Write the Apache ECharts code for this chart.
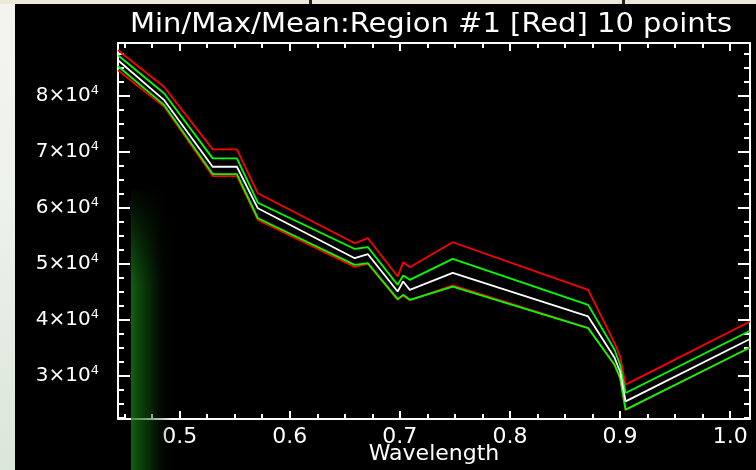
<!DOCTYPE html>
<html>
<head>
<meta charset="utf-8">
<script src="https://cdn.jsdelivr.net/npm/echarts@6/dist/echarts.min.js"></script>
<style>
html,body{margin:0;padding:0;background:#000;}
#c{width:756px;height:470px;}
</style>
</head>
<body>
<div id="c"></div>
<script>
// ---- data ----
const wavelength = [0.444, 0.486, 0.530, 0.552, 0.571, 0.659, 0.671, 0.698, 0.703, 0.709, 0.748, 0.871, 0.895, 0.900, 0.905, 1.018];
const maxVals   = [88160, 81600, 70430, 70430, 62570, 53640, 54540, 47680, 50250, 49360, 53820, 45300, 35790, 33390, 28340, 39640];
const upperVals = [87270, 80430, 68820, 68820, 60890, 52620, 52930, 46200, 47860, 47090, 50840, 42620, 34590, 31910, 26860, 37980];
const meanVals  = [86380, 79230, 67320, 67320, 59890, 50960, 51680, 45000, 46790, 45300, 48340, 40540, 33160, 30660, 25360, 36500];
const lowerVals = [85300, 78340, 66020, 66020, 58110, 49770, 50070, 43640, 44410, 43520, 45890, 38460, 31910, 29590, 23880, 35000];
const minVals   = [84590, 78040, 65660, 65660, 57800, 49410, 49950, 43520, 44230, 43430, 46110, 38510, 31800, 29500, 23800, 35000];

const xMajor = [0.5, 0.6, 0.7, 0.8, 0.9, 1.0];
const xMinor = [0.45, 0.475, 0.525, 0.55, 0.575, 0.625, 0.65, 0.675, 0.725, 0.75, 0.775, 0.825, 0.85, 0.875, 0.925, 0.95, 0.975];
const yMajor = [30000, 40000, 50000, 60000, 70000, 80000];
const yMinor = [22500, 25000, 27500, 32500, 35000, 37500, 42500, 45000, 47500, 52500, 55000, 57500, 62500, 65000, 67500, 72500, 75000, 77500, 82500, 85000, 87500];

const titleText = 'Min/Max/Mean:Region #1 [Red] 10 points';
const xName = 'Wavelength';

const X_MIN = 0.444, X_MAX = 1.018, Y_MIN = 22200, Y_MAX = 89460;
const FONT = 'DejaVu Sans';

function pairs(xs, ys) { return xs.map((x, i) => [x, ys[i]]); }

const chart = echarts.init(document.getElementById('c'), null, {renderer: 'canvas'});

const lineW = 1.8;
const axisBase = {type: 'value', splitLine: {show: false}, axisLine: {show: false}, axisLabel: {show: false}, axisTick: {show: false}};

function xAx(pos, values, len, withLine, withLabel) {
  return Object.assign({}, axisBase, {
    position: pos, min: X_MIN, max: X_MAX,
    axisLine: {show: withLine, onZero: false, lineStyle: {color: '#fff', width: 2}},
    axisTick: {show: true, inside: true, length: len, customValues: values, lineStyle: {color: '#fff', width: 2}},
    axisLabel: withLabel ? {show: true, customValues: xMajor, margin: 7, color: '#fff', fontSize: 22, fontFamily: FONT,
      formatter: v => Number(v).toFixed(1)} : {show: false},
    name: withLabel ? xName : '', nameLocation: 'middle', nameGap: 24, nameMoveOverlap: false,
    nameTextStyle: {color: '#fff', fontSize: 22, fontFamily: FONT}
  });
}
function yAx(pos, values, len, withLine, withLabel) {
  return Object.assign({}, axisBase, {
    position: pos, min: Y_MIN, max: Y_MAX,
    axisLine: {show: withLine, onZero: false, lineStyle: {color: '#fff', width: 2}},
    axisTick: {show: true, inside: true, length: len, customValues: values, lineStyle: {color: '#fff', width: 2}},
    axisLabel: withLabel ? {show: true, customValues: yMajor, margin: 19, color: '#fff', fontFamily: FONT,
      formatter: v => '{m|' + Math.round(v / 10000) + '×10}{e|4}',
      rich: {m: {fontSize: 20, color: '#fff', fontFamily: FONT},
             e: {fontSize: 13, color: '#fff', fontFamily: FONT, verticalAlign: 'top', padding: [0, 0, 10, 0]}}} : {show: false}
  });
}

function ser(name, ys, color, z) {
  return {name: name, type: 'line', data: pairs(wavelength, ys), symbol: 'none', smooth: false,
    lineStyle: {color: color, width: lineW}, z: z, animation: false, xAxisIndex: 0, yAxisIndex: 0};
}

chart.setOption({
  backgroundColor: '#000',
  animation: false,
  grid: {left: 118, right: 6, top: 43, bottom: 51, containLabel: false, outerBoundsMode: 'none'},
  xAxis: [
    xAx('bottom', xMajor, 8, true, true),
    xAx('bottom', xMinor, 5, false, false),
    xAx('top', xMajor, 8, true, false),
    xAx('top', xMinor, 5, false, false)
  ],
  yAxis: [
    yAx('left', yMajor, 12, true, true),
    yAx('left', yMinor, 6, false, false),
    yAx('right', yMajor, 12, true, false),
    yAx('right', yMinor, 6, false, false)
  ],
  series: [
    ser('Max', maxVals, '#ff0000', 2),
    ser('Min', minVals, '#ff0000', 2),
    ser('Mean+σ', upperVals, '#00ff00', 3),
    ser('Mean−σ', lowerVals, '#00ff00', 3),
    ser('Mean', meanVals, '#ffffff', 4)
  ],
  graphic: [
    // screenshot frame: left pale strip and top strip
    {type: 'rect', left: 0, top: 0, shape: {width: 15, height: 470}, z: 50,
      style: {fill: new echarts.graphic.LinearGradient(0, 0, 0, 1, [
        {offset: 0, color: '#f4f4ee'}, {offset: 0.4, color: '#eef2ec'}, {offset: 1, color: '#dbe6da'}])}},
    {type: 'rect', left: 0, top: 0, shape: {width: 756, height: 4}, z: 50, style: {fill: '#ece9d8'}},
    {type: 'rect', left: 309, top: 0, shape: {width: 3, height: 4}, z: 51, style: {fill: '#222'}},
    {type: 'rect', left: 622, top: 0, shape: {width: 3, height: 4}, z: 51, style: {fill: '#222'}},
    // green glow artefact
    {type: 'rect', left: 131, top: 190, shape: {width: 42, height: 280}, z: 60,
      style: {fill: new echarts.graphic.LinearGradient(0, 0, 1, 0, [
        {offset: 0, color: 'rgba(25,120,25,0.8)'}, {offset: 0.45, color: 'rgba(12,80,12,0.5)'}, {offset: 1, color: 'rgba(0,0,0,0)'}])}},
    {type: 'rect', left: 131, top: 185, shape: {width: 42, height: 100}, z: 61,
      style: {fill: new echarts.graphic.LinearGradient(0, 0, 0, 1, [
        {offset: 0, color: 'rgba(0,0,0,1)'}, {offset: 1, color: 'rgba(0,0,0,0)'}])}},
    // title
    {type: 'text', x: 130, y: 12, scaleX: 1.115, z: 70,
      style: {text: titleText, fill: '#fff', fontSize: 26, fontFamily: FONT}}
  ]
});
</script>
</body>
</html>
